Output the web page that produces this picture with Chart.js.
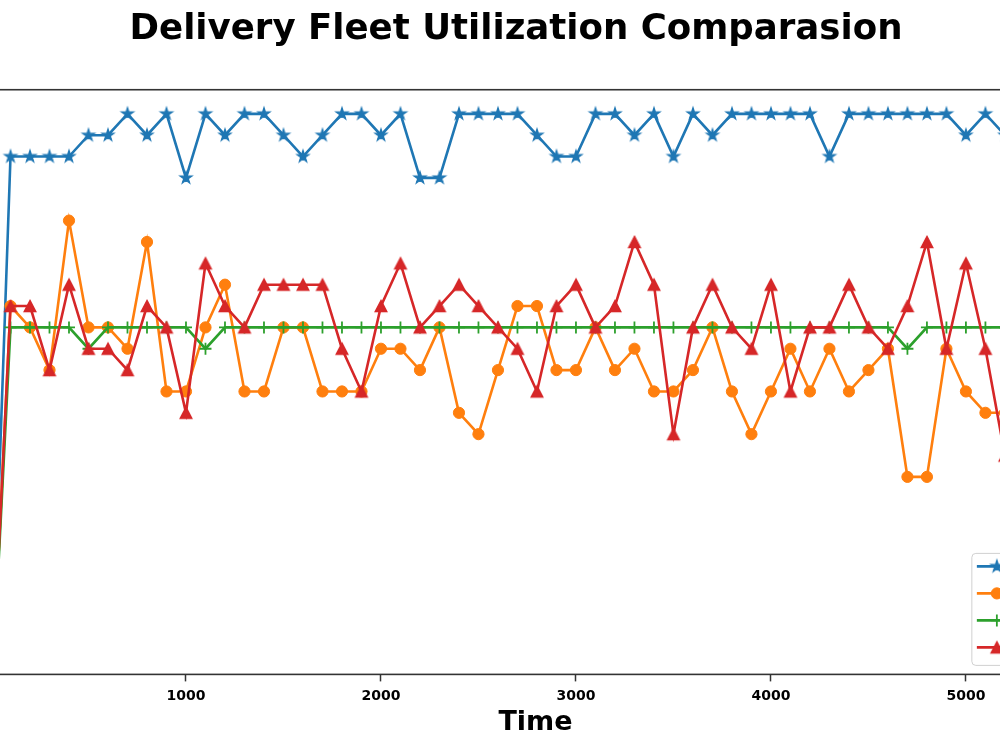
<!DOCTYPE html>
<html>
<head>
<meta charset="utf-8">
<title>Delivery Fleet Utilization Comparasion</title>
<script src="https://cdn.jsdelivr.net/npm/chart.js@4.4.1/dist/chart.umd.min.js"></script>
<style>
    html, body { margin: 0; padding: 0; background: #fff; overflow: hidden; }
    /* the figure is wider than the window: y axis and right edge fall outside */
    #wrap { position: absolute; left: -84px; top: 0; width: 1205px; height: 750px; }
</style>
</head>
<body>
<div id="wrap"><canvas id="fleetChart"></canvas></div>
<script>
// time steps (x axis)
const times = [0, 100, 200, 300, 400, 500, 600, 700, 800, 900, 1000,
    1100, 1200, 1300, 1400, 1500, 1600, 1700, 1800, 1900, 2000,
    2100, 2200, 2300, 2400, 2500, 2600, 2700, 2800, 2900, 3000,
    3100, 3200, 3300, 3400, 3500, 3600, 3700, 3800, 3900, 4000,
    4100, 4200, 4300, 4400, 4500, 4600, 4700, 4800, 4900, 5000,
    5100, 5200];
const xTicks = [0, 1000, 2000, 3000, 4000, 5000];
const yTicks = [5, 10, 15, 20, 25];

const fleetNames = ['Fleet A', 'Fleet B', 'Fleet C', 'Fleet D'];

// vehicles in use per fleet
const fleetA = [0,
    26, 26, 26, 26, 27, 27, 28, 27, 28, 25,
    28, 27, 28, 28, 27, 26, 27, 28, 28, 27,
    28, 25, 25, 28, 28, 28, 28, 27, 26, 26,
    28, 28, 27, 28, 26, 28, 27, 28, 28, 28,
    28, 28, 26, 28, 28, 28, 28, 28, 28, 27,
    28, 27];
const fleetB = [0,
    19, 18, 16, 23, 18, 18, 17, 22, 15, 15,
    18, 20, 15, 15, 18, 18, 15, 15, 15, 17,
    17, 16, 18, 14, 13, 16, 19, 19, 16, 16,
    18, 16, 17, 15, 15, 16, 18, 15, 13, 15,
    17, 15, 17, 15, 16, 17, 11, 11, 17, 15,
    14, 14];
const fleetC = [0,
    18, 18, 18, 18, 17, 18, 18, 18, 18, 18,
    17, 18, 18, 18, 18, 18, 18, 18, 18, 18,
    18, 18, 18, 18, 18, 18, 18, 18, 18, 18,
    18, 18, 18, 18, 18, 18, 18, 18, 18, 18,
    18, 18, 18, 18, 18, 18, 17, 18, 18, 18,
    18, 18];
const fleetD = [0,
    19, 19, 16, 20, 17, 17, 16, 19, 18, 14,
    21, 19, 18, 20, 20, 20, 20, 17, 15, 19,
    21, 18, 19, 20, 19, 18, 17, 15, 19, 20,
    18, 19, 22, 20, 13, 18, 20, 18, 17, 20,
    15, 18, 18, 20, 18, 17, 19, 22, 17, 21,
    17, 12];

const colors = ['#1f77b4', '#ff7f0e', '#2ca02c', '#d62728'];

Chart.defaults.font.family = '"DejaVu Sans", sans-serif';
Chart.defaults.color = '#000';

// filled star / triangle markers like matplotlib '*' and '^'
function makeMarker(kind, color) {
    const c = document.createElement('canvas');
    c.width = 18;
    c.height = 18;
    const ctx = c.getContext('2d');
    ctx.translate(9, 9);
    ctx.fillStyle = color;
    ctx.strokeStyle = color;
    ctx.lineWidth = 1.4;
    ctx.beginPath();
    if (kind === 'star') {
        for (let i = 0; i < 10; i++) {
            const r = i % 2 === 0 ? 6 : 6 * 0.382;
            const a = -Math.PI / 2 + i * Math.PI / 5;
            ctx.lineTo(r * Math.cos(a), r * Math.sin(a));
        }
    } else {
        ctx.moveTo(0, -5.6);
        ctx.lineTo(5.8, 5.6);
        ctx.lineTo(-5.8, 5.6);
    }
    ctx.closePath();
    ctx.fill();
    ctx.stroke();
    return c;
}

const pointStyles = [
    makeMarker('star', colors[0]),
    'circle',
    'cross',
    makeMarker('triangle', colors[3])
];

// frame (spines) + matplotlib style legend in lower right
const frameAndLegend = {
    id: 'frameAndLegend',
    afterDatasetsDraw(chart) {
        const ctx = chart.ctx;
        const a = chart.chartArea;
        ctx.save();
        ctx.strokeStyle = '#333';
        ctx.lineWidth = 1.6;
        ctx.strokeRect(a.left, a.top, a.right - a.left, a.bottom - a.top);

        ctx.font = '18px "DejaVu Sans"';
        const labelW = Math.max(...fleetNames.map(n => ctx.measureText(n).width));
        const boxW = 5 + 40 + 14 + labelW + 7;
        const boxH = 112;
        const left = a.right - 9 - boxW;
        const top = a.bottom - 9 - boxH;
        ctx.beginPath();
        if (ctx.roundRect) ctx.roundRect(left, top, boxW, boxH, 4);
        else ctx.rect(left, top, boxW, boxH);
        ctx.fillStyle = 'rgba(255,255,255,0.8)';
        ctx.fill();
        ctx.strokeStyle = '#d0d0d0';
        ctx.lineWidth = 1;
        ctx.stroke();

        chart.data.datasets.forEach((ds, i) => {
            const y = top + 13 + i * 27;
            ctx.strokeStyle = ds.borderColor;
            ctx.fillStyle = ds.borderColor;
            ctx.lineWidth = ds.borderWidth;
            ctx.beginPath();
            ctx.moveTo(left + 5, y);
            ctx.lineTo(left + 45, y);
            ctx.stroke();
            ctx.lineWidth = ds.pointBorderWidth;
            Chart.helpers.drawPoint(ctx, {
                pointStyle: ds.pointStyle,
                radius: ds.pointRadius,
                borderWidth: ds.pointBorderWidth,
                rotation: 0
            }, left + 25, y);
            ctx.fillStyle = '#000';
            ctx.textBaseline = 'middle';
            ctx.fillText(ds.label, left + 59, y + 1);
        });
        ctx.restore();
    }
};

const allSeries = [fleetA, fleetB, fleetC, fleetD];
const datasets = allSeries.map((vals, i) => ({
    label: fleetNames[i],
    data: vals,
    borderColor: colors[i],
    backgroundColor: colors[i],
    borderWidth: 2.6,
    pointStyle: pointStyles[i],
    pointRadius: i === 1 ? 5.6 : 6,
    pointBorderWidth: i === 2 ? 1.8 : 1,
    pointBorderColor: colors[i],
    pointBackgroundColor: colors[i],
    tension: 0,
    fill: false,
    order: 3 - i
}));

new Chart(document.getElementById('fleetChart'), {
    type: 'line',
    data: { labels: times, datasets: datasets },
    options: {
        responsive: true,
        maintainAspectRatio: false,
        animation: false,
        layout: { padding: { left: 5, right: 10, top: 0, bottom: 10.8 } },
        plugins: {
            legend: { display: false },
            tooltip: { enabled: false },
            title: {
                display: true,
                text: 'Delivery Fleet Utilization Comparasion',
                font: { size: 35.6, weight: 'bold' },
                color: '#000',
                padding: { top: 8, bottom: 39 }
            }
        },
        scales: {
            x: {
                type: 'linear',
                min: -159,
                max: 5744,
                grid: { drawOnChartArea: false, tickLength: 7, tickWidth: 1.5, tickColor: '#333' },
                border: { display: false },
                afterBuildTicks(scale) { scale.ticks = xTicks.map(v => ({ value: v })); },
                ticks: {
                    maxRotation: 0,
                    autoSkip: false,
                    padding: 6.6,
                    font: { size: 14, weight: 'bold' },
                    color: '#000',
                    callback: v => String(v)
                },
                title: {
                    display: true,
                    text: 'Time',
                    font: { size: 27, weight: 'bold' },
                    color: '#000',
                    padding: { top: -4.6, bottom: 0 }
                }
            },
            y: {
                min: 1.75,
                max: 29.13,
                grid: { drawOnChartArea: false, tickLength: 7, tickWidth: 1.5, tickColor: '#333' },
                border: { display: false },
                afterBuildTicks(scale) { scale.ticks = yTicks.map(v => ({ value: v })); },
                ticks: {
                    autoSkip: false,
                    font: { size: 14, weight: 'bold' },
                    color: '#000',
                    callback: v => String(v)
                },
                afterFit(scale) { scale.width = 39; }
            }
        }
    },
    plugins: [frameAndLegend]
});
</script>
</body>
</html>
